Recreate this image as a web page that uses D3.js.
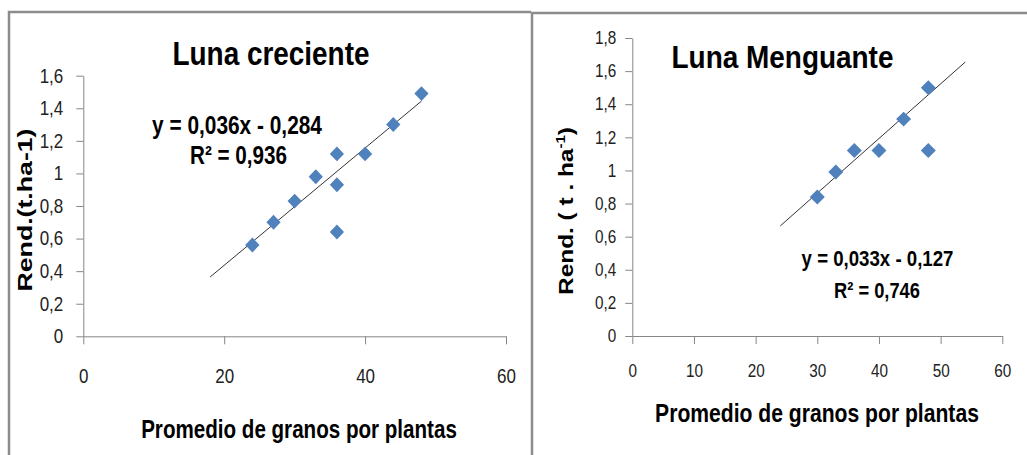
<!DOCTYPE html>
<html>
<head>
<meta charset="utf-8">
<script src="https://cdn.jsdelivr.net/npm/d3@7"></script>
<style>
  body { margin: 0; background: #fff; }
  text { font-family: 'Liberation Sans Narrow', 'Liberation Sans', Arial, sans-serif; }
</style>
</head>
<body>
<svg id="chart"></svg>
<script>
const width = 1027;
const height = 455;

// DATA
const crecienteX = [24, 27, 30, 33, 36, 36, 36, 40, 44, 48];
const crecienteY = [0.56, 0.70, 0.83, 0.98, 1.12, 0.93, 0.64, 1.12, 1.30, 1.49];
const crecienteFit = [0.036, -0.284];   // slope, intercept
const crecienteFitRange = [18, 48];
const crecienteXTicks = [0, 20, 40, 60];
const crecienteYTicks = [0, 0.2, 0.4, 0.6, 0.8, 1, 1.2, 1.4, 1.6];

const menguanteX = [30, 33, 36, 40, 44, 48, 48];
const menguanteY = [0.84, 0.99, 1.12, 1.12, 1.31, 1.50, 1.12];
const menguanteFit = [0.033, -0.127];
const menguanteFitRange = [24, 54];
const menguanteXTicks = [0, 10, 20, 30, 40, 50, 60];
const menguanteYTicks = [0, 0.2, 0.4, 0.6, 0.8, 1, 1.2, 1.4, 1.6, 1.8];

// colors
const markerColor = '#4f81bd';
const axisColor = '#868686';
const frameColor = '#8c8c8c';

// simple svg initializations
const svg = d3
  .select('#chart')
  .attr('width', width)
  .attr('height', height);

// panel frames
svg.append('path')
  .attr('d', 'M9,455 V12 H531')
  .attr('fill', 'none')
  .attr('stroke', frameColor)
  .attr('stroke-width', 2.5);
svg.append('path')
  .attr('d', 'M532,455 V13 H1027')
  .attr('fill', 'none')
  .attr('stroke', frameColor)
  .attr('stroke-width', 2.5);

// HELPERS
const fmt = d => String(d).replace('.', ',');

// squeeze/stretch a centered text to the width it has in the picture
const fitText = (sel, { x, y, w, rotate = 0 }) => {
  const len = sel.node().getBBox().width;
  sel.attr('transform', `translate(${x},${y}) rotate(${rotate}) scale(${w / len},1)`);
};

const addText = (g, str, size, box) => {
  const t = g.append('text')
    .attr('text-anchor', 'middle')
    .attr('font-weight', 'bold')
    .attr('font-size', size)
    .attr('fill', '#000')
    .text(str);
  fitText(t, box);
  return t;
};

const drawPanel = ({
  xs, ys, fit, fitRange, xTicks, yTicks,
  xRange, yRange, yMax, tickFont, xLabelY, yTickPad,
  markerScale
}) => {
  const g = svg.append('g');
  const narrow = 0.85; // tick labels are condensed

  const x = d3.scaleLinear().domain([0, 60]).range(xRange);
  const y = d3.scaleLinear().domain([0, yMax]).range(yRange);

  // axes
  const xAxis = g.append('g')
    .attr('transform', `translate(0,${yRange[0]})`)
    .call(d3.axisBottom(x).tickValues(xTicks).tickSize(8).tickSizeOuter(0).tickFormat(fmt));
  xAxis.selectAll('text')
    .attr('y', 0)
    .attr('dy', '0.35em')
    .attr('transform', `translate(0,${xLabelY}) scale(${narrow},1)`);

  const yAxis = g.append('g')
    .attr('transform', `translate(${xRange[0]},0)`)
    .call(d3.axisLeft(y).tickValues(yTicks).tickSize(7).tickSizeOuter(0).tickFormat(fmt));
  yAxis.selectAll('text')
    .attr('x', 0)
    .attr('transform', `translate(${-(7 + yTickPad)},0) scale(${narrow},1)`);

  [xAxis, yAxis].forEach(a => {
    a.selectAll('path, line').attr('stroke', axisColor);
    a.selectAll('text')
      .attr('fill', '#222')
      .style('font-size', tickFont + 'px')
      .style('font-family', "'Liberation Sans Narrow', 'Liberation Sans', Arial, sans-serif");
  });

  // trendline
  const line = d3.line().x(d => x(d)).y(d => y(fit[0] * d + fit[1]));
  g.append('path')
    .attr('d', line(fitRange))
    .attr('fill', 'none')
    .attr('stroke', '#333')
    .attr('stroke-width', 1);

  // diamonds
  const diamond = d3.symbol().type(d3.symbolSquare).size(112);
  g.selectAll('.pt')
    .data(xs.map((d, i) => [d, ys[i]]))
    .enter()
    .append('path')
      .classed('pt', true)
      .attr('d', diamond)
      .attr('fill', markerColor)
      .attr('transform', d => `translate(${x(d[0])},${y(d[1])}) scale(${markerScale},1) rotate(45)`);

  return g;
};

// LEFT: Luna creciente
const left = drawPanel({
  xs: crecienteX, ys: crecienteY, fit: crecienteFit, fitRange: crecienteFitRange,
  xTicks: crecienteXTicks, yTicks: crecienteYTicks,
  xRange: [83.3, 506], yRange: [336.3, 75.7], yMax: 1.6,
  tickFont: 20, xLabelY: 40, yTickPad: 13, markerScale: 0.95
});
addText(left, 'Luna creciente', 34, { x: 271, y: 65, w: 197 });
addText(left, 'Promedio de granos por plantas', 26, { x: 299, y: 438, w: 316 });
addText(left, 'Rend.(t.ha-1)', 21, { x: 32, y: 210, w: 163, rotate: -90 });
addText(left, 'y = 0,036x - 0,284', 25, { x: 237, y: 134, w: 170 });
addText(left, 'R² = 0,936', 25, { x: 238.5, y: 164, w: 97 });

// RIGHT: Luna Menguante
const right = drawPanel({
  xs: menguanteX, ys: menguanteY, fit: menguanteFit, fitRange: menguanteFitRange,
  xTicks: menguanteXTicks, yTicks: menguanteYTicks,
  xRange: [632.3, 1002.3], yRange: [336, 38], yMax: 1.8,
  tickFont: 18, xLabelY: 35, yTickPad: 9, markerScale: 1
});
addText(right, 'Luna Menguante', 32, { x: 782.5, y: 68, w: 222 });
addText(right, 'Promedio de granos por plantas', 26, { x: 817, y: 422, w: 324 });
addText(right, 'y = 0,033x - 0,127', 22, { x: 877.5, y: 266, w: 152 });
addText(right, 'R² = 0,746', 22, { x: 877, y: 298, w: 86 });

// y title with superscript
const yTitle = right.append('text')
  .attr('text-anchor', 'middle')
  .attr('font-weight', 'bold')
  .attr('font-size', 21);
yTitle.append('tspan').text('Rend. ( t . ha');
yTitle.append('tspan').attr('font-size', 13).attr('dy', -8).text('-1');
yTitle.append('tspan').attr('dy', 8).text(')');
fitText(yTitle, { x: 573, y: 211, w: 168, rotate: -90 });
</script>
</body>
</html>
